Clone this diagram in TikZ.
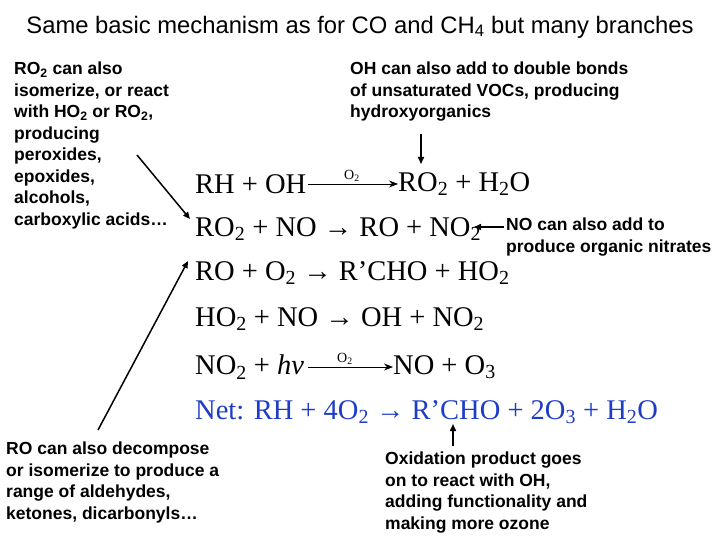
\documentclass[tikz,border=0pt]{standalone}
\usepackage{fontspec}
\setmainfont{Liberation Serif}
\setsansfont{Liberation Sans}
\usetikzlibrary{arrows.meta}
\newcommand{\sbs}[1]{\textsubscript{#1}}
\begin{document}
\begin{tikzpicture}[x=1pt,y=-1pt,
 note/.style={font=\sffamily\bfseries\fontsize{17.5}{21.5}\selectfont,align=left,anchor=north west,inner sep=0},
 eq/.style={font=\fontsize{28.5}{30}\selectfont,anchor=west,inner sep=0},
 lbl/.style={font=\fontsize{14}{14}\selectfont,inner sep=0},
 ptr/.style={-{Triangle[length=7pt,width=6pt]},line width=1.5pt},
 rxn/.style={-{Stealth[length=9pt,width=7pt]},line width=0.8pt}]
\useasboundingbox (0,0) rectangle (720,540);
\node[font=\sffamily\fontsize{23.8}{26}\selectfont,inner sep=0] (title) at (360,27) {Same basic mechanism as for CO and CH\sbs{4} but many branches};
\node[note] (n1) at (14,62) {RO\sbs{2} can also\\isomerize, or react\\with HO\sbs{2} or RO\sbs{2},\\producing\\peroxides,\\epoxides,\\alcohols,\\carboxylic acids\ldots};
\node[note] (n2) at (350,62) {OH can also add to double bonds\\of unsaturated VOCs, producing\\hydroxyorganics};
\node[note] (n3) at (506,218) {NO can also add to\\produce organic nitrates};
\node[note] (n4) at (6,442) {RO can also decompose\\or isomerize to produce a\\range of aldehydes,\\ketones, dicarbonyls\ldots};
\node[note] (n5) at (385,452) {Oxidation product goes\\on to react with OH,\\adding functionality and\\making more ozone};
% equations
\node[eq] (e1a) at (195,184) {RH + OH};
\node[eq] (e1b) at (398,184) {RO\sbs{2} + H\sbs{2}O};
\draw[rxn] (e1a.east) ++(2,0) coordinate (a1) -- (e1b.west |- a1);
\node[lbl] at (352,176) {O\sbs{2}};
\node[eq] (e2) at (195,229) {RO\sbs{2} + NO → RO + NO\sbs{2}};
\node[eq] (e3) at (195,273) {RO + O\sbs{2} → R'CHO + HO\sbs{2}};
\node[eq] (e4) at (195,319) {HO\sbs{2} + NO → OH + NO\sbs{2}};
\node[eq] (e5a) at (195,367) {NO\sbs{2} + \textit{hv}};
\node[eq] (e5b) at (393,367) {NO + O\sbs{3}};
\draw[rxn] (e5a.east) ++(4,0) coordinate (a5) -- (e5b.west |- a5);
\node[lbl] at (345,359) {O\sbs{2}};
\node[eq,text={rgb,255:red,30;green,60;blue,200}] (e6) at (195,412) {Net: RH + 4O\sbs{2} → R'CHO + 2O\sbs{3} + H\sbs{2}O};
% pointers
\coordinate (p1) at (190,219);
\draw[ptr] (137,155) -- (p1);
\draw[ptr] (421,134) -- (421,164);
\draw[ptr] (504,227) -- (474,227);
\draw[ptr] (98,430) -- (188,261);
\draw[ptr] (453,446) -- (453,424);
\end{tikzpicture}
\end{document}
